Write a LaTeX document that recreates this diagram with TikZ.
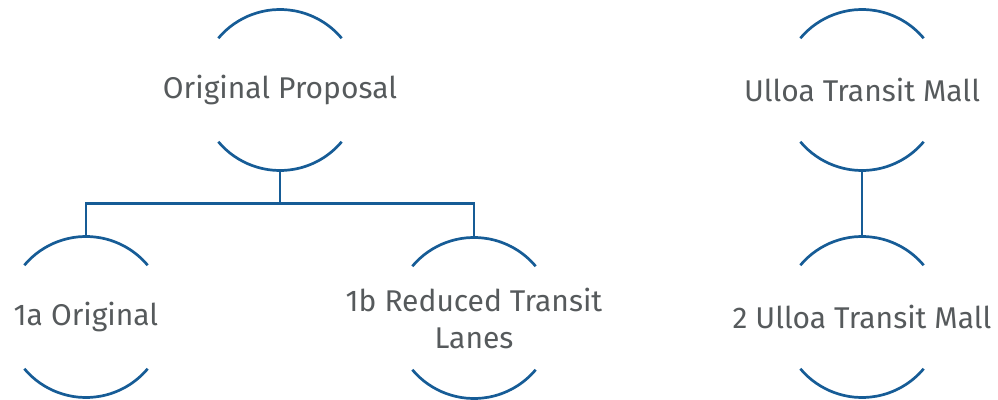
\documentclass[tikz,border=0pt]{standalone}
\usepackage{fontspec}
\setmainfont{Fira Sans}
\definecolor{linkblue}{RGB}{22,92,150}
\definecolor{labelgray}{RGB}{86,90,92}
\begin{document}
\begin{tikzpicture}[x=1pt,y=1pt,
  item/.style={font=\fontsize{30}{37}\selectfont, text=labelgray, align=center, inner sep=0pt},
  link/.style={draw=linkblue, line width=2.7pt},
  bracket/.style={draw=linkblue, line width=2.7pt, line cap=butt}]
\useasboundingbox (0,0) rectangle (998,399);

% option labels
\node[item] (op) at (280,309) {Original Proposal};
\node[item] (a1) at (86,82) {1a Original};
\node[item] (b1) at (474,81) {1b Reduced Transit\\Lanes};
\node[item] (ut) at (862,309) {Ulloa Transit Mall};
\node[item] (u2) at (862,82) {2 Ulloa Transit Mall};

% upper and lower arcs around each label
\foreach \n in {op,a1,b1,ut,u2}{
  \draw[bracket] ([shift={(140:80.5)}]\n.center) arc[start angle=140, end angle=40, radius=80.5];
  \draw[bracket] ([shift={(220:80.5)}]\n.center) arc[start angle=220, end angle=320, radius=80.5];
  \coordinate (\n-t) at ([yshift=80.5pt]\n.center);
  \coordinate (\n-b) at ([yshift=-80.5pt]\n.center);
}

% tree connectors
\coordinate (split) at ([yshift=-33pt]op-b);
\draw[link] (op-b) -- (split);
\draw[link] (a1-t) |- (split) -| (b1-t);
\draw[link] (ut-b) -- (u2-t);
\end{tikzpicture}
\end{document}
